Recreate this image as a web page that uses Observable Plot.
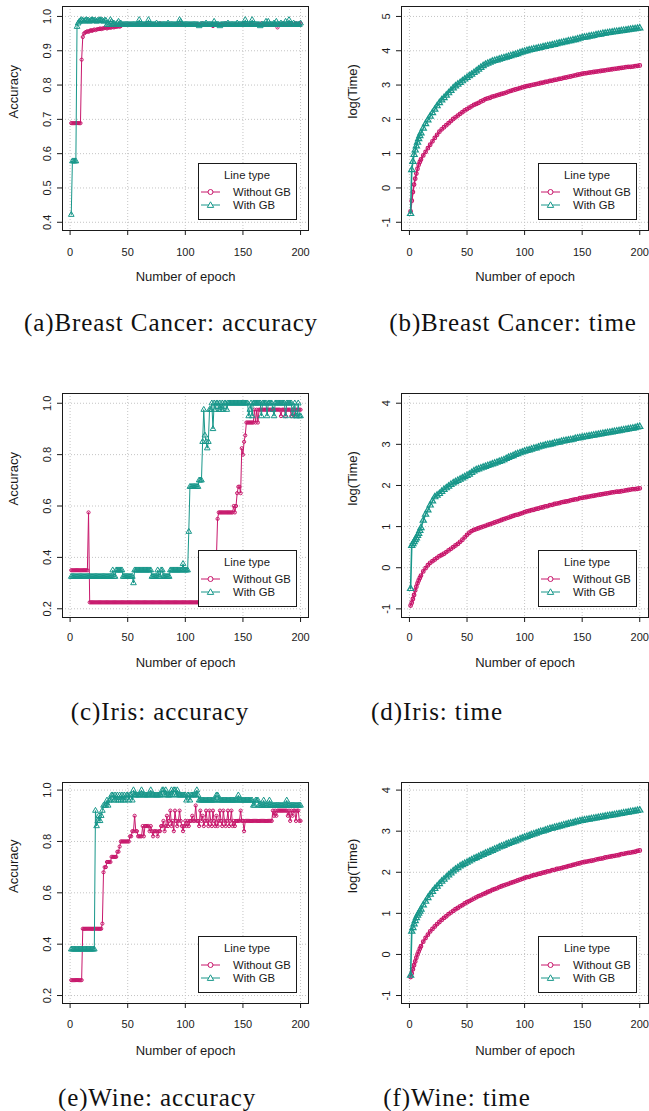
<!DOCTYPE html>
<html><head><meta charset="utf-8">
<script src="https://cdn.jsdelivr.net/npm/d3@7"></script>
<script src="https://cdn.jsdelivr.net/npm/@observablehq/plot@0.6"></script>
<style>
body{margin:0;background:#fff;}
#wrap{position:relative;width:649px;height:1111px;overflow:hidden;background:#fff;}
.panel{position:absolute;width:324px;}
.cap{position:absolute;font-family:"Liberation Serif","Times New Roman",serif;font-size:25px;letter-spacing:0.9px;white-space:nowrap;transform:translate(-50%,-50%);color:#111;line-height:1;}
</style></head><body><div id="wrap"></div>
<script>
const COL_NO = "#c8186c", COL_GB = "#18978a";
const FONT = "'Liberation Sans', Arial, Helvetica, sans-serif";
const seriesNames = ["Without GB", "With GB"];
const accEpochs = d3.range(1, 201);
const timeEpochs = [...d3.range(1, 11), ...d3.range(12, 201, 2)];
const xTicks = [0, 50, 100, 150, 200];
const xLabel = "Number of epoch";

// (a) Breast Cancer accuracy
const bcAccNo = [
0.689,0.689,0.689,0.689,0.689,0.689,0.689,0.689,0.689,0.874,0.940,0.950,0.953,0.955,0.957,0.955,0.958,0.960,0.958,0.960,
0.962,0.960,0.962,0.963,0.963,0.965,0.963,0.965,0.965,0.967,0.967,0.965,0.967,0.968,0.967,0.968,0.970,0.968,0.970,0.970,
0.970,0.972,0.970,0.972,0.976,0.976,0.976,0.976,0.976,0.976,0.976,0.976,0.976,0.976,0.976,0.976,0.976,0.976,0.976,0.976,
0.976,0.976,0.976,0.976,0.976,0.976,0.976,0.976,0.976,0.976,0.976,0.976,0.976,0.976,0.976,0.976,0.976,0.980,0.976,0.976,
0.976,0.976,0.976,0.976,0.976,0.976,0.976,0.976,0.976,0.976,0.976,0.976,0.976,0.976,0.976,0.976,0.980,0.976,0.976,0.976,
0.976,0.976,0.976,0.976,0.976,0.976,0.976,0.976,0.976,0.976,0.976,0.976,0.976,0.976,0.980,0.976,0.976,0.976,0.976,0.976,
0.976,0.976,0.976,0.972,0.976,0.976,0.976,0.976,0.976,0.976,0.976,0.976,0.976,0.976,0.980,0.976,0.976,0.976,0.976,0.976,
0.976,0.976,0.976,0.976,0.976,0.976,0.976,0.976,0.976,0.980,0.976,0.976,0.976,0.976,0.976,0.976,0.976,0.976,0.976,0.976,
0.976,0.976,0.976,0.976,0.976,0.980,0.976,0.976,0.976,0.976,0.976,0.976,0.976,0.976,0.976,0.976,0.976,0.976,0.976,0.968,
0.976,0.976,0.976,0.976,0.980,0.976,0.976,0.976,0.976,0.976,0.976,0.980,0.976,0.976,0.976,0.980,0.976,0.976,0.980,0.980];
const bcAccGB = [
0.422,0.578,0.578,0.578,0.578,0.970,0.980,0.985,0.988,0.990,0.988,0.985,0.988,0.990,0.988,0.988,0.985,0.988,0.990,0.988,
0.988,0.988,0.985,0.988,0.988,0.990,0.988,0.988,0.985,0.988,0.988,0.976,0.980,0.976,0.990,0.985,0.976,0.980,0.976,0.976,
0.980,0.985,0.976,0.980,0.976,0.976,0.976,0.976,0.976,0.976,0.976,0.976,0.976,0.976,0.976,0.976,0.976,0.976,0.976,0.990,
0.976,0.976,0.976,0.976,0.976,0.976,0.976,0.990,0.976,0.976,0.976,0.976,0.976,0.976,0.980,0.976,0.976,0.976,0.976,0.976,
0.976,0.976,0.976,0.976,0.980,0.976,0.976,0.976,0.976,0.976,0.976,0.976,0.976,0.976,0.990,0.985,0.976,0.976,0.976,0.976,
0.976,0.976,0.976,0.976,0.976,0.976,0.976,0.976,0.976,0.976,0.976,0.972,0.976,0.976,0.976,0.976,0.976,0.980,0.976,0.976,
0.976,0.976,0.976,0.976,0.985,0.976,0.976,0.976,0.976,0.972,0.976,0.976,0.976,0.976,0.976,0.976,0.980,0.976,0.976,0.976,
0.976,0.976,0.976,0.976,0.980,0.976,0.976,0.976,0.976,0.976,0.976,0.990,0.976,0.976,0.976,0.976,0.976,0.990,0.976,0.976,
0.976,0.976,0.976,0.976,0.972,0.976,0.976,0.976,0.976,0.985,0.976,0.985,0.976,0.976,0.976,0.976,0.980,0.976,0.985,0.976,
0.976,0.976,0.980,0.976,0.976,0.976,0.985,0.976,0.976,0.990,0.976,0.976,0.976,0.980,0.976,0.976,0.976,0.976,0.976,0.980];

// (b) Breast Cancer log(time)
const bcTimeNo = [
-0.68,-0.37,-0.12,0.10,0.27,0.42,0.56,0.68,0.76,0.83,
0.95,1.05,1.16,1.26,1.36,1.46,1.55,1.64,1.71,1.77,1.83,1.89,1.95,2.01,2.06,2.11,2.16,2.21,2.26,2.30,
2.34,2.38,2.42,2.45,2.48,2.52,2.55,2.59,2.61,2.63,2.66,2.68,2.70,2.72,2.74,2.76,2.78,2.81,2.83,2.85,2.87,2.89,2.91,2.93,2.95,
2.97,2.98,3.00,3.01,3.03,3.04,3.06,3.07,3.09,3.10,3.12,3.13,3.15,3.16,3.18,3.19,3.21,3.22,3.24,3.25,3.27,3.28,3.30,3.31,3.33,
3.34,3.35,3.36,3.37,3.38,3.39,3.40,3.41,3.42,3.43,3.44,3.45,3.46,3.47,3.48,3.49,3.50,3.51,3.52,3.53,3.53,3.54,3.55,3.56,3.57];
const bcTimeGB = [
-0.75,0.53,0.77,0.97,1.10,1.22,1.33,1.43,1.52,1.60,
1.74,1.87,1.98,2.09,2.19,2.29,2.39,2.48,2.56,2.63,2.70,2.77,2.84,2.91,2.97,3.02,3.07,3.12,3.17,3.22,
3.27,3.31,3.36,3.41,3.46,3.51,3.56,3.60,3.63,3.66,3.69,3.71,3.73,3.75,3.77,3.79,3.81,3.83,3.85,3.87,3.89,3.91,3.94,3.96,3.98,
4.00,4.02,4.03,4.05,4.06,4.08,4.09,4.11,4.12,4.14,4.15,4.17,4.18,4.20,4.22,4.23,4.25,4.26,4.28,4.29,4.31,4.32,4.34,4.36,4.38,
4.39,4.40,4.42,4.43,4.44,4.46,4.47,4.48,4.50,4.51,4.52,4.53,4.54,4.55,4.56,4.57,4.58,4.59,4.60,4.61,4.62,4.63,4.64,4.65,4.66];

// (c) Iris accuracy
const irisAccNo = [
0.35,0.35,0.35,0.35,0.35,0.35,0.35,0.35,0.35,0.35,0.35,0.35,0.35,0.35,0.35,0.575,0.225,0.225,0.225,0.225,
0.225,0.225,0.225,0.225,0.225,0.225,0.225,0.225,0.225,0.225,0.225,0.225,0.225,0.225,0.225,0.225,0.225,0.225,0.225,0.225,
0.225,0.225,0.225,0.225,0.225,0.225,0.225,0.225,0.225,0.225,0.225,0.225,0.225,0.225,0.225,0.225,0.225,0.225,0.225,0.225,
0.225,0.225,0.225,0.225,0.225,0.225,0.225,0.225,0.225,0.225,0.225,0.225,0.225,0.225,0.225,0.225,0.225,0.225,0.225,0.225,
0.225,0.225,0.225,0.225,0.225,0.225,0.225,0.225,0.225,0.225,0.225,0.225,0.225,0.225,0.225,0.225,0.225,0.225,0.225,0.225,
0.225,0.225,0.225,0.225,0.225,0.225,0.225,0.225,0.225,0.225,0.225,0.225,0.225,0.225,0.225,0.225,0.225,0.225,0.225,0.225,
0.225,0.225,0.225,0.225,0.225,0.225,0.4,0.55,0.575,0.575,0.575,0.575,0.575,0.575,0.575,0.575,0.575,0.575,0.575,0.575,
0.575,0.6,0.575,0.6,0.65,0.675,0.675,0.65,0.825,0.8,0.85,0.875,0.925,0.925,0.925,0.925,0.925,0.925,0.925,0.975,
0.925,0.975,0.925,0.975,0.975,0.975,0.975,0.975,0.975,0.975,0.975,0.975,0.975,0.975,0.975,0.975,0.975,0.975,0.975,0.975,
0.975,0.975,0.95,0.975,0.975,0.975,0.95,0.975,0.975,0.975,0.975,0.95,0.975,0.975,0.95,0.975,0.975,0.975,0.975,0.975];
const irisAccGB = [
0.325,0.325,0.325,0.325,0.325,0.325,0.325,0.325,0.325,0.325,0.325,0.325,0.325,0.325,0.325,0.325,0.325,0.325,0.325,0.325,
0.325,0.325,0.325,0.325,0.325,0.325,0.325,0.325,0.325,0.325,0.325,0.325,0.325,0.325,0.325,0.325,0.35,0.325,0.325,0.35,
0.35,0.35,0.35,0.35,0.35,0.325,0.325,0.325,0.325,0.325,0.325,0.325,0.325,0.325,0.3,0.35,0.35,0.35,0.35,0.35,
0.35,0.35,0.35,0.35,0.35,0.35,0.35,0.35,0.35,0.35,0.325,0.325,0.325,0.325,0.325,0.35,0.325,0.325,0.35,0.35,
0.325,0.325,0.325,0.325,0.325,0.325,0.35,0.35,0.35,0.35,0.35,0.35,0.35,0.35,0.35,0.35,0.35,0.375,0.35,0.35,
0.35,0.35,0.5,0.675,0.675,0.675,0.675,0.675,0.675,0.675,0.675,0.7,0.7,0.7,0.85,0.975,0.875,0.85,0.825,0.85,
0.975,0.975,1.0,0.9,1.0,0.975,1.0,1.0,0.975,1.0,0.975,1.0,0.975,1.0,1.0,0.975,1.0,1.0,1.0,1.0,
1.0,1.0,1.0,1.0,1.0,1.0,1.0,1.0,1.0,1.0,1.0,1.0,1.0,1.0,0.95,0.975,1.0,0.95,1.0,1.0,
1.0,1.0,1.0,1.0,1.0,0.95,1.0,1.0,1.0,1.0,0.95,1.0,1.0,1.0,1.0,0.975,0.95,1.0,1.0,1.0,
1.0,1.0,1.0,1.0,1.0,1.0,0.95,1.0,1.0,1.0,1.0,1.0,0.95,0.975,1.0,0.95,0.95,1.0,0.95,0.95];

// (d) Iris log(time)
const irisTimeNo = [
-0.92,-0.85,-0.76,-0.66,-0.55,-0.46,-0.38,-0.31,-0.25,-0.19,
-0.09,-0.01,0.06,0.12,0.16,0.20,0.24,0.28,0.31,0.34,0.38,0.42,0.46,0.50,0.54,0.58,0.63,0.68,0.74,0.80,
0.85,0.89,0.92,0.94,0.96,0.98,1.00,1.02,1.04,1.06,1.08,1.10,1.12,1.14,1.16,1.18,1.20,1.22,1.24,1.26,1.28,1.29,1.31,1.33,1.35,
1.37,1.38,1.40,1.41,1.43,1.44,1.46,1.47,1.49,1.50,1.52,1.53,1.55,1.56,1.57,1.59,1.60,1.61,1.62,1.64,1.65,1.66,1.67,1.69,1.70,
1.71,1.72,1.73,1.74,1.75,1.76,1.77,1.78,1.79,1.80,1.81,1.82,1.83,1.84,1.85,1.85,1.86,1.87,1.88,1.89,1.90,1.91,1.91,1.92,1.93];
const irisTimeGB = [
-0.51,0.54,0.58,0.63,0.68,0.72,0.78,0.83,0.90,0.97,
1.15,1.30,1.40,1.52,1.62,1.72,1.76,1.80,1.85,1.90,1.94,1.98,2.02,2.06,2.09,2.12,2.15,2.18,2.21,2.24,
2.27,2.31,2.35,2.38,2.40,2.42,2.44,2.46,2.48,2.50,2.52,2.54,2.56,2.58,2.60,2.62,2.65,2.68,2.70,2.72,2.75,2.77,2.79,2.81,2.83,
2.85,2.86,2.88,2.90,2.91,2.93,2.95,2.96,2.98,2.99,3.00,3.01,3.03,3.04,3.05,3.07,3.08,3.09,3.10,3.11,3.12,3.14,3.15,3.16,3.17,
3.18,3.19,3.20,3.21,3.22,3.23,3.24,3.25,3.26,3.27,3.28,3.29,3.30,3.31,3.32,3.33,3.34,3.35,3.36,3.37,3.38,3.39,3.40,3.42,3.43];

// (e) Wine accuracy
const wineAccNo = [
0.26,0.26,0.26,0.26,0.26,0.26,0.26,0.26,0.26,0.26,0.46,0.46,0.46,0.46,0.46,0.46,0.46,0.46,0.46,0.46,
0.46,0.46,0.46,0.46,0.46,0.46,0.46,0.48,0.68,0.70,0.70,0.72,0.72,0.72,0.72,0.74,0.74,0.74,0.74,0.74,
0.76,0.76,0.78,0.80,0.80,0.80,0.80,0.80,0.80,0.80,0.80,0.82,0.82,0.84,0.84,0.90,0.84,0.84,0.82,0.82,
0.82,0.82,0.86,0.82,0.86,0.86,0.86,0.86,0.84,0.86,0.84,0.82,0.84,0.84,0.84,0.82,0.84,0.84,0.86,0.86,
0.88,0.84,0.86,0.90,0.86,0.88,0.92,0.86,0.88,0.84,0.92,0.88,0.86,0.88,0.92,0.88,0.86,0.84,0.86,0.88,
0.86,0.88,0.86,0.88,0.88,0.90,0.88,0.88,0.94,0.88,0.88,0.86,0.92,0.88,0.90,0.86,0.88,0.92,0.88,0.86,
0.92,0.88,0.86,0.92,0.88,0.86,0.90,0.86,0.88,0.92,0.88,0.86,0.92,0.88,0.86,0.88,0.92,0.86,0.88,0.92,
0.86,0.88,0.86,0.88,0.88,0.88,0.88,0.92,0.88,0.88,0.84,0.88,0.88,0.88,0.88,0.88,0.88,0.88,0.88,0.88,
0.88,0.88,0.88,0.88,0.88,0.88,0.88,0.88,0.88,0.88,0.88,0.88,0.88,0.88,0.88,0.92,0.90,0.92,0.90,0.92,
0.92,0.92,0.92,0.92,0.92,0.92,0.92,0.92,0.90,0.92,0.88,0.92,0.90,0.92,0.92,0.88,0.92,0.92,0.88,0.88];
const wineAccGB = [
0.38,0.38,0.38,0.38,0.38,0.38,0.38,0.38,0.38,0.38,0.38,0.38,0.38,0.38,0.38,0.38,0.38,0.38,0.38,0.38,
0.38,0.92,0.86,0.88,0.90,0.88,0.90,0.92,0.94,0.94,0.94,0.96,0.94,0.96,0.96,0.98,0.98,0.96,0.98,0.96,
0.98,0.96,0.98,0.96,0.98,0.96,0.98,0.96,0.98,0.98,0.96,0.98,0.98,0.96,1.00,0.98,0.98,0.98,0.98,0.98,
0.98,1.00,0.98,0.98,0.98,0.98,0.98,0.98,0.98,1.00,0.98,0.98,0.98,0.98,0.98,0.98,0.98,0.98,0.98,1.00,
1.00,0.98,1.00,0.98,0.98,0.98,0.98,1.00,0.98,1.00,1.00,0.98,1.00,0.98,0.98,0.98,0.98,0.98,0.98,0.98,
0.96,0.98,0.98,0.96,0.98,0.98,0.98,0.98,0.98,1.00,0.98,0.96,0.96,0.96,0.96,0.96,0.96,0.96,0.96,0.96,
0.96,0.96,0.96,0.96,0.96,0.96,0.98,0.98,0.96,0.96,0.96,0.96,0.96,0.96,0.96,0.96,0.96,0.96,0.96,0.96,
0.96,0.96,0.96,0.96,0.96,0.98,0.96,0.96,0.96,0.96,0.96,0.96,0.96,0.96,0.96,0.96,0.96,0.96,0.94,0.94,
0.96,0.96,0.96,0.94,0.94,0.94,0.94,0.96,0.94,0.94,0.94,0.94,0.96,0.94,0.94,0.94,0.94,0.94,0.94,0.94,
0.94,0.94,0.94,0.94,0.94,0.94,0.94,0.96,0.94,0.94,0.94,0.94,0.94,0.94,0.94,0.94,0.94,0.94,0.94,0.94];

// (f) Wine log(time)
const wineTimeNo = [
-0.55,-0.46,-0.36,-0.26,-0.17,-0.08,0.00,0.07,0.14,0.20,
0.31,0.40,0.48,0.56,0.62,0.68,0.74,0.79,0.84,0.89,0.93,0.98,1.02,1.06,1.10,1.13,1.17,1.20,1.24,1.27,
1.30,1.33,1.36,1.39,1.42,1.44,1.47,1.49,1.52,1.54,1.57,1.59,1.61,1.64,1.66,1.68,1.70,1.72,1.74,1.76,1.78,1.80,1.82,1.84,1.86,
1.88,1.89,1.91,1.93,1.94,1.96,1.97,1.99,2.00,2.02,2.03,2.05,2.06,2.08,2.09,2.10,2.12,2.13,2.15,2.16,2.18,2.19,2.21,2.22,2.24,
2.25,2.26,2.27,2.28,2.29,2.31,2.32,2.33,2.34,2.36,2.37,2.38,2.39,2.40,2.41,2.42,2.44,2.45,2.46,2.47,2.48,2.49,2.50,2.52,2.53];
const wineTimeGB = [
-0.51,0.56,0.65,0.74,0.82,0.89,0.95,1.00,1.05,1.10,
1.20,1.29,1.38,1.46,1.53,1.60,1.66,1.72,1.78,1.83,1.88,1.93,1.98,2.03,2.07,2.11,2.15,2.18,2.21,2.24,
2.27,2.30,2.33,2.35,2.38,2.41,2.43,2.46,2.48,2.51,2.53,2.56,2.58,2.61,2.63,2.65,2.68,2.70,2.72,2.74,2.76,2.78,2.81,2.83,2.85,
2.87,2.89,2.91,2.93,2.95,2.97,2.99,3.00,3.02,3.04,3.06,3.07,3.09,3.10,3.12,3.13,3.15,3.16,3.18,3.19,3.20,3.22,3.23,3.25,3.26,
3.27,3.28,3.29,3.30,3.31,3.32,3.33,3.34,3.35,3.36,3.37,3.38,3.39,3.40,3.41,3.42,3.43,3.44,3.45,3.46,3.47,3.48,3.49,3.50,3.51];

const accTicks1 = [0.4, 0.5, 0.6, 0.7, 0.8, 0.9, 1.0];
const accTicks2 = [0.2, 0.4, 0.6, 0.8, 1.0];
const timeTicks1 = [-1, 0, 1, 2, 3, 4, 5];
const timeTicks2 = [-1, 0, 1, 2, 3, 4];
const captions = ["(a)Breast Cancer: accuracy", "(b)Breast Cancer: time", "(c)Iris: accuracy", "(d)Iris: time", "(e)Wine: accuracy", "(f)Wine: time"];

const wrap = document.getElementById("wrap");
const fmt1 = d3.format(".1f");
const fmtInt = d => String(d);

function panel(cfg) {
  const W = 324, mTop = 6, mBottom = 62;
  const H = mTop + cfg.boxH + mBottom;
  const right = cfg.col === 1;
  const mLeft = right ? 76 : 62, mRight = right ? 1 : 16;
  const no = cfg.xs.map((e, i) => ({epoch: e, value: cfg.no[i]}));
  const gb = cfg.xs.map((e, i) => ({epoch: e, value: cfg.gb[i]}));
  if (cfg.no.length !== cfg.xs.length || cfg.gb.length !== cfg.xs.length) throw new Error("length mismatch " + cfg.caption + " " + cfg.no.length + " " + cfg.gb.length);
  const grid = {stroke: "#c4c4c4", strokeOpacity: 1, strokeDasharray: "1,2", strokeWidth: 1};
  const dense = cfg.xs.length < 150;
  const plot = Plot.plot({
    width: W, height: H, marginTop: mTop, marginBottom: mBottom, marginLeft: mLeft, marginRight: mRight,
    style: {fontFamily: FONT, fontSize: "11px", color: "#1a1a1a", background: "transparent", overflow: "visible"},
    x: {domain: right ? [-6.9, 207.6] : [-6.6, 206.9]},
    y: {domain: cfg.yDomain},
    marks: [
      Plot.gridX(xTicks, grid),
      Plot.gridY(cfg.yTicks, grid),
      Plot.line(no, {x: "epoch", y: "value", stroke: COL_NO, strokeWidth: dense ? 1.6 : 1}),
      Plot.dot(no, {x: "epoch", y: "value", stroke: COL_NO, r: dense ? 1.8 : 1.6, strokeWidth: dense ? 1.2 : 1, symbol: "circle"}),
      Plot.line(gb, {x: "epoch", y: "value", stroke: COL_GB, strokeWidth: dense ? 1.6 : 1}),
      Plot.dot(gb, {x: "epoch", y: "value", stroke: COL_GB, r: dense ? 2.3 : 2.1, strokeWidth: dense ? 1.2 : 1, symbol: "triangle"}),
      Plot.frame({stroke: "#1a1a1a", strokeWidth: 1}),
      Plot.axisX(xTicks, {tickSize: 5, tickPadding: cfg.xPad, label: null, fontSize: 11}),
      Plot.axisY(cfg.yTicks, {tickSize: 5, tickPadding: 7, tickRotate: -90, tickFormat: cfg.yFmt, label: null, fontSize: 11}),
      Plot.text([xLabel], {text: d => d, frameAnchor: "bottom", dy: cfg.xLabOff, fontSize: 13}),
      Plot.text([cfg.yLabel], {text: d => d, frameAnchor: "left", dx: -49, rotate: -90, fontSize: 13})
    ]
  });
  // legend (R style, inside bottom-right of the box)
  const svg = d3.select(plot);
  const bx1 = W - mRight, by1 = mTop + cfg.boxH;
  const lw = 98, lh = 56;
  const lx = Math.round(bx1 - 12 - lw), ly = Math.round(by1 - 11 - lh);
  const g = svg.append("g").attr("font-family", FONT).attr("font-size", 11.3).attr("fill", "#1a1a1a");
  g.append("rect").attr("x", lx + 0.5).attr("y", ly + 0.5).attr("width", lw).attr("height", lh)
    .attr("fill", "white").attr("stroke", "#1a1a1a").attr("stroke-width", 1);
  g.append("text").attr("x", lx + lw / 2).attr("y", ly + 12).attr("text-anchor", "middle").attr("dy", "0.35em").text("Line type");
  const cols = [COL_NO, COL_GB];
  seriesNames.forEach((name, i) => {
    const yy = ly + 29 + i * 13;
    g.append("line").attr("x1", lx + 3).attr("x2", lx + 22).attr("y1", yy).attr("y2", yy)
      .attr("stroke", cols[i]).attr("stroke-width", 1);
    if (i === 0) {
      g.append("circle").attr("cx", lx + 12.5).attr("cy", yy).attr("r", 2.5).attr("fill", "white").attr("stroke", cols[i]).attr("stroke-width", 1);
    } else {
      const cx = lx + 12.5, s = 3.2;
      g.append("path").attr("d", `M${cx},${yy - s}L${cx + s},${yy + s * 0.75}L${cx - s},${yy + s * 0.75}Z`)
        .attr("fill", "white").attr("stroke", cols[i]).attr("stroke-width", 1);
    }
    g.append("text").attr("x", lx + 35).attr("y", yy).attr("dy", "0.35em").attr("text-anchor", "start").text(name);
  });
  const div = document.createElement("div");
  div.className = "panel";
  div.style.left = (right ? 325 : 0) + "px";
  div.style.top = (cfg.boxTop - mTop) + "px";
  div.appendChild(plot);
  wrap.appendChild(div);
  const cap = document.createElement("div");
  cap.className = "cap";
  cap.style.left = cfg.capX + "px";
  cap.style.top = cfg.capY + "px";
  cap.textContent = cfg.caption;
  wrap.appendChild(cap);
}

panel({col: 0, boxTop: 6, boxH: 224, xs: accEpochs, no: bcAccNo, gb: bcAccGB, yDomain: [0.376, 1.029], yTicks: accTicks1, yFmt: fmt1, yLabel: "Accuracy", xPad: 13, xLabOff: 50, caption: captions[0], capX: 171, capY: 322});
panel({col: 1, boxTop: 6, boxH: 224, xs: timeEpochs, no: bcTimeNo, gb: bcTimeGB, yDomain: [-1.24, 5.29], yTicks: timeTicks1, yFmt: fmtInt, yLabel: "log(Time)", xPad: 13, xLabOff: 50, caption: captions[1], capX: 513, capY: 322});
panel({col: 0, boxTop: 393, boxH: 224, xs: accEpochs, no: irisAccNo, gb: irisAccGB, yDomain: [0.166, 1.038], yTicks: accTicks2, yFmt: fmt1, yLabel: "Accuracy", xPad: 11, xLabOff: 49, caption: captions[2], capX: 160, capY: 711});
panel({col: 1, boxTop: 393, boxH: 224, xs: timeEpochs, no: irisTimeNo, gb: irisTimeGB, yDomain: [-1.21, 4.236], yTicks: timeTicks2, yFmt: fmtInt, yLabel: "log(Time)", xPad: 11, xLabOff: 49, caption: captions[3], capX: 437, capY: 711});
panel({col: 0, boxTop: 782, boxH: 221, xs: accEpochs, no: wineAccNo, gb: wineAccGB, yDomain: [0.169, 1.0296], yTicks: accTicks2, yFmt: fmt1, yLabel: "Accuracy", xPad: 12, xLabOff: 51, caption: captions[4], capX: 157, capY: 1097});
panel({col: 1, boxTop: 782, boxH: 221, xs: timeEpochs, no: wineTimeNo, gb: wineTimeGB, yDomain: [-1.194, 4.185], yTicks: timeTicks2, yFmt: fmtInt, yLabel: "log(Time)", xPad: 12, xLabOff: 51, caption: captions[5], capX: 457, capY: 1097});
</script>
</body></html>
